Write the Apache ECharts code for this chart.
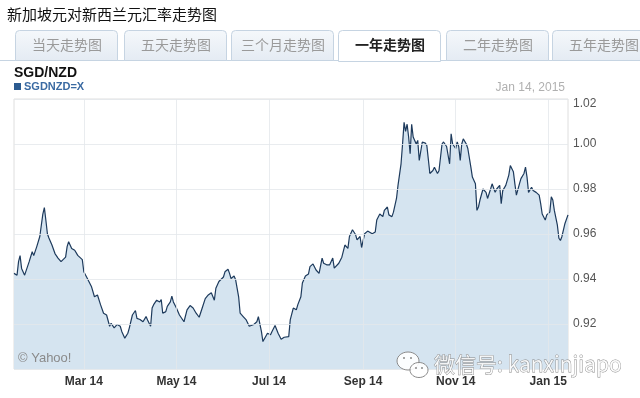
<!DOCTYPE html>
<html><head><meta charset="utf-8">
<script src="https://cdn.jsdelivr.net/npm/echarts@6/dist/echarts.min.js"></script>
<style>html,body{margin:0;padding:0;background:#fff}#c{width:640px;height:398px}</style>
</head><body><div id="c"></div>
<script>
// SGD/NZD daily close
const sgdNzd = [
['2014-01-14',0.9425],['2014-01-16',0.9417],['2014-01-17',0.9477],['2014-01-18',0.9504],['2014-01-19',0.9447],['2014-01-21',0.9417],['2014-01-22',0.9413],['2014-01-24',0.9477],['2014-01-26',0.9521],['2014-01-27',0.9504],['2014-01-29',0.9544],['2014-01-31',0.9589],
['2014-02-01',0.9639],['2014-02-02',0.9688],['2014-02-03',0.9717],['2014-02-04',0.9661],['2014-02-05',0.9601],['2014-02-06',0.9582],['2014-02-08',0.9551],['2014-02-10',0.9513],['2014-02-12',0.9493],['2014-02-14',0.9477],['2014-02-17',0.9497],['2014-02-18',0.9544],['2014-02-19',0.9566],['2014-02-21',0.9536],['2014-02-23',0.9528],['2014-02-25',0.9505],['2014-02-28',0.9486],
['2014-03-01',0.9432],['2014-03-03',0.9407],['2014-03-06',0.9367],['2014-03-08',0.9321],['2014-03-10',0.9329],['2014-03-12',0.9286],['2014-03-14',0.9248],['2014-03-16',0.9240],['2014-03-18',0.9190],['2014-03-19',0.9203],['2014-03-21',0.9183],['2014-03-23',0.9198],['2014-03-25',0.9190],['2014-03-26',0.9167],['2014-03-28',0.9137],['2014-03-30',0.9159],['2014-03-31',0.9183],
['2014-04-02',0.9240],['2014-04-04',0.9260],['2014-04-05',0.9225],['2014-04-07',0.9220],['2014-04-09',0.9210],['2014-04-11',0.9233],['2014-04-12',0.9218],['2014-04-14',0.9190],['2014-04-15',0.9271],['2014-04-16',0.9286],['2014-04-18',0.9306],['2014-04-20',0.9298],['2014-04-21',0.9309],['2014-04-22',0.9248],['2014-04-24',0.9255],['2014-04-25',0.9278],['2014-04-27',0.9298],['2014-04-28',0.9324],['2014-04-29',0.9298],
['2014-05-01',0.9271],['2014-05-03',0.9240],['2014-05-06',0.9210],['2014-05-08',0.9263],['2014-05-10',0.9282],['2014-05-12',0.9271],['2014-05-14',0.9248],['2014-05-16',0.9230],['2014-05-18',0.9271],['2014-05-20',0.9313],['2014-05-22',0.9329],['2014-05-24',0.9339],['2014-05-26',0.9306],['2014-05-27',0.9359],['2014-05-29',0.9389],['2014-05-30',0.9397],
['2014-06-01',0.9409],['2014-06-02',0.9432],['2014-06-04',0.9443],['2014-06-05',0.9425],['2014-06-06',0.9402],['2014-06-08',0.9413],['2014-06-09',0.9397],['2014-06-11',0.9321],['2014-06-12',0.9248],['2014-06-14',0.9233],['2014-06-16',0.9218],['2014-06-18',0.9190],['2014-06-21',0.9198],['2014-06-23',0.9210],['2014-06-24',0.9233],['2014-06-26',0.9167],['2014-06-27',0.9122],['2014-06-28',0.9117],['2014-06-30',0.9159],
['2014-07-02',0.9152],['2014-07-03',0.9167],['2014-07-05',0.9193],['2014-07-07',0.9159],['2014-07-09',0.9132],['2014-07-11',0.9141],['2014-07-14',0.9144],['2014-07-15',0.9218],['2014-07-17',0.9271],['2014-07-19',0.9263],['2014-07-20',0.9286],['2014-07-22',0.9321],['2014-07-23',0.9382],['2014-07-25',0.9413],['2014-07-27',0.9422],['2014-07-28',0.9455],['2014-07-30',0.9467],
['2014-08-01',0.9440],['2014-08-03',0.9425],['2014-08-05',0.9493],['2014-08-06',0.9470],['2014-08-08',0.9463],['2014-08-10',0.9463],['2014-08-12',0.9493],['2014-08-13',0.9448],['2014-08-16',0.9470],['2014-08-18',0.9497],['2014-08-20',0.9551],['2014-08-22',0.9536],['2014-08-23',0.9589],['2014-08-25',0.9619],['2014-08-27',0.9598],['2014-08-28',0.9574],['2014-08-30',0.9589],['2014-08-31',0.9540],
['2014-09-02',0.9601],['2014-09-04',0.9613],['2014-09-05',0.9609],['2014-09-07',0.9601],['2014-09-09',0.9609],['2014-09-10',0.9662],['2014-09-12',0.9689],['2014-09-14',0.9677],['2014-09-15',0.9705],['2014-09-17',0.9720],['2014-09-18',0.9685],['2014-09-20',0.9677],['2014-09-21',0.9697],['2014-09-23',0.9758],['2014-09-24',0.9816],['2014-09-26',0.9912],['2014-09-27',1.0000],['2014-09-28',1.0096],['2014-09-29',1.0056],['2014-09-30',1.0088],
['2014-10-01',1.0031],['2014-10-02',0.9957],['2014-10-03',1.0088],['2014-10-04',1.0031],['2014-10-06',1.0000],['2014-10-07',1.0016],['2014-10-08',0.9927],['2014-10-10',1.0009],['2014-10-12',1.0004],['2014-10-13',0.9993],['2014-10-15',0.9869],['2014-10-17',0.9882],['2014-10-18',0.9897],['2014-10-20',0.9869],['2014-10-21',0.9881],['2014-10-23',1.0000],['2014-10-24',1.0009],['2014-10-26',0.9989],['2014-10-27',0.9950],['2014-10-28',0.9912],['2014-10-29',1.0045],['2014-10-30',1.0000],
['2014-11-01',0.9980],['2014-11-02',1.0009],['2014-11-03',0.9989],['2014-11-04',0.9927],['2014-11-05',1.0000],['2014-11-06',1.0023],['2014-11-08',1.0000],['2014-11-09',0.9980],['2014-11-11',0.9897],['2014-11-12',0.9853],['2014-11-14',0.9823],['2014-11-15',0.9705],['2014-11-16',0.9720],['2014-11-17',0.9751],['2014-11-19',0.9800],['2014-11-21',0.9785],['2014-11-22',0.9758],['2014-11-24',0.9800],['2014-11-25',0.9823],['2014-11-27',0.9785],['2014-11-28',0.9800],['2014-11-30',0.9816],
['2014-12-01',0.9735],['2014-12-02',0.9793],['2014-12-04',0.9816],['2014-12-05',0.9808],['2014-12-06',0.9862],['2014-12-07',0.9904],['2014-12-09',0.9877],['2014-12-10',0.9823],['2014-12-11',0.9773],['2014-12-13',0.9823],['2014-12-14',0.9846],['2014-12-16',0.9869],['2014-12-17',0.9897],['2014-12-18',0.9853],['2014-12-19',0.9785],['2014-12-21',0.9808],['2014-12-22',0.9793],['2014-12-24',0.9785],['2014-12-26',0.9773],['2014-12-27',0.9735],['2014-12-28',0.9689],['2014-12-30',0.9662],['2014-12-31',0.9685],
['2015-01-02',0.9697],['2015-01-03',0.9765],['2015-01-04',0.9751],['2015-01-05',0.9705],['2015-01-07',0.9639],['2015-01-08',0.9581],['2015-01-09',0.9571],['2015-01-10',0.9589],['2015-01-12',0.9647],['2015-01-14',0.9685]
];
const xStart = '2014-01-14';
const xEnd = '2015-01-14';
const xTickDates = ['2014-03-01','2014-05-01','2014-07-01','2014-09-01','2014-11-01','2015-01-01'];
const xTickLabels = ['Mar 14','May 14','Jul 14','Sep 14','Nov 14','Jan 15'];
const yMin = 0.90, yMax = 1.02, yStep = 0.02;
const tabLabels = ['当天走势图','五天走势图','三个月走势图','一年走势图','二年走势图','五年走势图'];
const activeTab = 3;
const pageTitle = '新加坡元对新西兰元汇率走势图';
const pairTitle = 'SGD/NZD';
const seriesName = 'SGDNZD=X';
const asOf = 'Jan 14, 2015';
const credit = '© Yahoo!';
const watermark = '微信号: kanxinjiapo';

const chart = echarts.init(document.getElementById('c'), null, {renderer:'canvas'});
const ts = d => echarts.time.parse(d).getTime();
const tickTs = xTickDates.map(ts);
const seriesData = sgdNzd.map(p => [ts(p[0]), p[1]]);

const tabX = [15,124,231,338,446,552];
const graphics = [];
graphics.push({type:'text', x:7, y:14, style:{text:pageTitle, fill:'#111', font:'15px "Noto Sans CJK SC"', verticalAlign:'middle', textVerticalAlign:'middle'}});
graphics.push({type:'line', shape:{x1:0,y1:60.5,x2:640,y2:60.5}, style:{stroke:'#c6d4e2', lineWidth:1}});
tabLabels.forEach((t,i)=>{
  const act = i===activeTab;
  graphics.push({type:'rect', shape:{x:tabX[i]+0.5, y:30.5, width:102, height: act?31:30, r:[4,4,0,0]},
    style:{fill: act ? '#ffffff' : new echarts.graphic.LinearGradient(0,0,0,1,[{offset:0,color:'#f5f8fb'},{offset:1,color:'#e4ebf3'}]), stroke:'#c6d4e2', lineWidth:1}, z:act?2:1});
  graphics.push({type:'text', x:tabX[i]+52, y:45, z:3, style:{text:t, fill: act?'#222':'#9a9a9a', font:(act?'bold ':'')+'14px "Noto Sans CJK SC"', align:'center', verticalAlign:'middle', textAlign:'center', textVerticalAlign:'middle'}});
});
graphics.push({type:'text', x:14, y:73, style:{text:pairTitle, fill:'#111', font:'bold 14px "Liberation Sans", Arial', verticalAlign:'middle', textVerticalAlign:'middle'}});
graphics.push({type:'rect', shape:{x:14, y:83, width:7, height:7}, style:{fill:'#2b5b90'}});
graphics.push({type:'text', x:24, y:87, style:{text:seriesName, fill:'#3a6aa2', font:'bold 11px "Liberation Sans", Arial', verticalAlign:'middle', textVerticalAlign:'middle'}});
graphics.push({type:'text', x:565, y:88, style:{text:asOf, fill:'#b0b0b0', font:'12px "Liberation Sans", Arial', align:'right', textAlign:'right', verticalAlign:'middle', textVerticalAlign:'middle'}});
graphics.push({type:'text', x:18, y:358, z:10, style:{text:credit, fill:'#8a8a8a', font:'13px "Liberation Sans", Arial', verticalAlign:'middle', textVerticalAlign:'middle'}});
// watermark
graphics.push({type:'ellipse', shape:{cx:408, cy:361, rx:11, ry:9}, z:20, style:{fill:'rgba(255,255,255,0.9)', stroke:'#8a8a8a', lineWidth:1}});
graphics.push({type:'ellipse', shape:{cx:419, cy:370, rx:9, ry:7.5}, z:21, style:{fill:'rgba(255,255,255,0.9)', stroke:'#8a8a8a', lineWidth:1}});
[[404,358],[411,358],[416,368],[422,368]].forEach(p=>graphics.push({type:'circle', shape:{cx:p[0],cy:p[1],r:1}, z:22, style:{fill:'#8a8a8a'}}));
graphics.push({type:'text', x:434, y:364, z:20, style:{text:watermark, fill:'rgba(255,255,255,0.85)', stroke:'#888', lineWidth:0.8, font:'21px "Noto Sans CJK SC"', verticalAlign:'middle', textVerticalAlign:'middle'}});

chart.setOption({
  animation:false,
  backgroundColor:'#ffffff',
  grid:{left:14, right:72, top:99, bottom:29, show:true, borderColor:'#dedede', borderWidth:1, backgroundColor:'transparent'},
  xAxis:{type:'value', min:ts(xStart), max:ts(xEnd), z:3,
    axisLine:{show:false}, axisTick:{show:false, customValues:tickTs},
    splitLine:{show:true, lineStyle:{color:'rgba(228,231,235,0.8)', width:1}},
    axisLabel:{customValues:tickTs, color:'#333', fontSize:12, fontWeight:'bold', fontFamily:'"Liberation Sans", Arial', margin:7,
      formatter:(v)=>{ const i = tickTs.indexOf(+v); return i>=0 ? xTickLabels[i] : ''; }}},
  yAxis:{type:'value', position:'right', min:yMin, max:yMax, interval:yStep, z:3,
    axisLine:{show:false}, axisTick:{show:false},
    splitLine:{show:true, lineStyle:{color:'rgba(228,231,235,0.8)', width:1}},
    axisLabel:{color:'#555', fontSize:12, fontFamily:'"Liberation Sans", Arial', margin:5,
      formatter:(v)=>{ if (Math.abs(v-yMin)<1e-6) return ''; if (Math.abs(v-yMax)<1e-6) return '{t|'+v.toFixed(2)+'}'; return v.toFixed(2); },
      rich:{t:{color:'#555', fontSize:12, fontFamily:'"Liberation Sans", Arial', padding:[10,0,0,0]}}}},
  graphic: graphics,
  series:[{type:'line', name:seriesName, data:seriesData, showSymbol:false, symbol:'none', z:2,
    lineStyle:{color:'#1d3a5c', width:1.2},
    areaStyle:{color:'#d5e4f0', opacity:1, origin:'start'}}]
});
</script></body></html>
